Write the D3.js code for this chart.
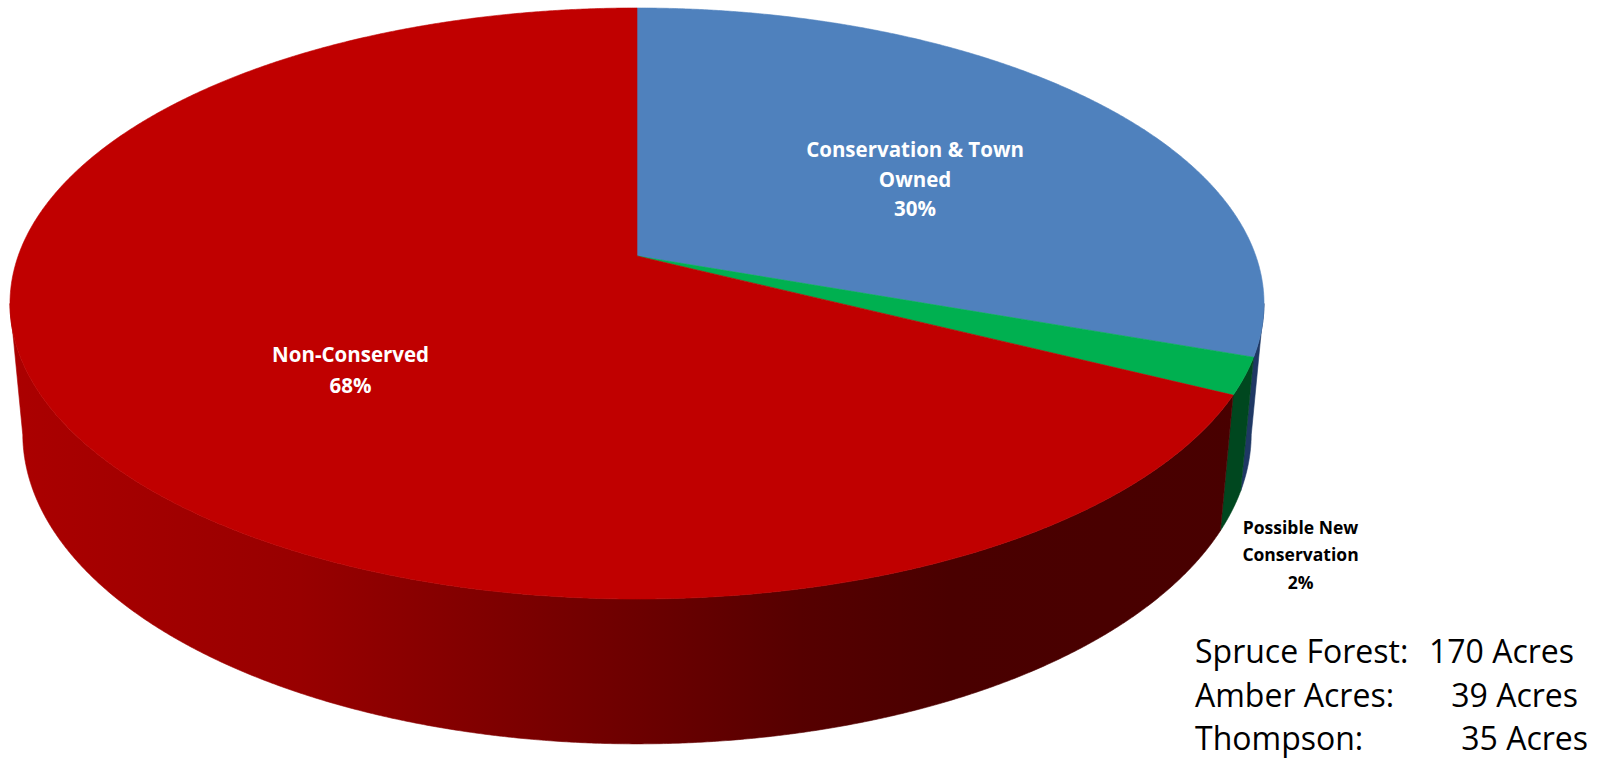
<!DOCTYPE html>
<html>
<head>
<meta charset="utf-8">
<script src="https://cdn.jsdelivr.net/npm/d3@7"></script>
<style>
  body { margin: 0; background: #fff; }
  svg { display: block; }
</style>
</head>
<body>
<div id="main"></div>
<script>
const categories = ['Conservation & Town Owned', 'Possible New Conservation', 'Non-Conserved'];
const labelLines = [['Conservation & Town', 'Owned'], ['Possible New', 'Conservation'], ['Non-Conserved']];
const shares = [30.4, 2.0, 67.6];
const topColors = ['#4f81bd', '#00b050', '#c00000'];
const sideColors = ['#1f3864', '#00471f', 'url(#redSide)'];

const parcels = ['Spruce Forest:', 'Amber Acres:', 'Thompson:'];
const parcelAcres = [170, 39, 35];

const
  width = 1605,
  height = 758;

// perspective camera for the tilted disc
const cx = 637, cy = 256;
const D = 5.507, f = 3408, sinT = 0.4652, cosT = Math.sqrt(1 - sinT * sinT);
const thick = 0.24;

// phi: clockwise from the far side, r: radius fraction, h: depth below the top face
function proj(phi, r = 1, h = 0) {
  const X = r * Math.sin(phi), Z = -r * Math.cos(phi);
  const up = -Z * sinT - h * cosT;
  const dep = D - Z * cosT + h * sinT;
  return [cx + f * X / dep, cy - f * up / dep];
}

// visible part of the rim (tangent points of the silhouette)
const k = cosT / D;
const visA = Math.acos(-k), visB = 2 * Math.PI - visA;

const pie = d3.pie().sort(null).value(d => d);
const arcs = pie(shares);

const step = Math.PI / 720;
const arcPts = (a0, a1, h) => d3.range(a0, a1, step).concat([a1]).map(a => proj(a, 1, h));

const line = d3.line().curve(d3.curveLinearClosed);

let svg = d3.select('div#main').append('svg').attr('width', width).attr('height', height);

// side shading: lighter on the left, darkest towards the right
const shade = d3.scaleLinear()
  .domain([10, 300, 640, 800, 950, 1270])
  .range(['#ab0000', '#980000', '#6c0000', '#560000', '#4a0000', '#480000']);
const grad = svg.append('defs').append('linearGradient')
  .attr('id', 'redSide').attr('gradientUnits', 'userSpaceOnUse')
  .attr('x1', 0).attr('x2', width).attr('y1', 0).attr('y2', 0);
grad.selectAll('stop').data(shade.domain()).join('stop')
  .attr('offset', d => d / width)
  .attr('stop-color', d => shade(d));

// side walls
arcs.forEach((d, i) => {
  const s = Math.max(d.startAngle, visA), e = Math.min(d.endAngle, visB);
  if (s >= e) return;
  const pts = arcPts(s, e, 0).concat(arcPts(s, e, thick).reverse());
  svg.append('path').attr('d', line(pts))
    .attr('fill', sideColors[i])
    .attr('stroke', sideColors[i]).attr('stroke-width', 0.6);
});

// top faces
arcs.forEach((d, i) => {
  const pts = [proj(0, 0)].concat(arcPts(d.startAngle, d.endAngle, 0));
  svg.append('path').attr('d', line(pts))
    .attr('fill', topColors[i])
    .attr('stroke', topColors[i]).attr('stroke-width', 0.6);
});

// data labels
const pct = d3.format('.0%');
const labelSpec = [
  { r: 0.58, h: 0, dx: 0, dy: 15, size: 20.5, lh: 29.5, fill: '#fff' },
  { r: 1.12, h: thick, dx: -8, dy: 28, size: 17.5, lh: 27.5, fill: '#000' },
  { r: 0.52, h: 0, dx: 0, dy: 32, size: 20.5, lh: 31, fill: '#fff' }
];
arcs.forEach((d, i) => {
  const sp = labelSpec[i];
  const mid = (d.startAngle + d.endAngle) / 2;
  const [px, py] = proj(mid, sp.r, sp.h);
  const lx = px + sp.dx, ly = py + sp.dy;
  const lines = labelLines[i].concat([pct(Math.round(shares[i]) / 100)]);
  const t = svg.append('text')
    .attr('x', lx).attr('y', ly)
    .attr('text-anchor', 'middle')
    .attr('font-family', '"Open Sans", sans-serif')
    .attr('font-weight', 'bold')
    .attr('font-size', sp.size)
    .attr('fill', sp.fill);
  t.selectAll('tspan').data(lines).join('tspan')
    .attr('x', lx)
    .attr('dy', (l, j) => j === 0 ? -(lines.length - 1) / 2 * sp.lh + sp.size * 0.35 : sp.lh)
    .text(l => l);
});

// acreage note
const note = svg.append('g')
  .attr('font-family', '"Open Sans", sans-serif')
  .attr('font-size', 32)
  .attr('fill', '#000');
const valueRight = [1574, 1578, 1588];
parcels.forEach((p, i) => {
  const y = 663 + i * 43.5;
  note.append('text').attr('x', 1195).attr('y', y).text(p);
  note.append('text').attr('x', valueRight[i]).attr('y', y)
    .attr('text-anchor', 'end').text(parcelAcres[i] + ' Acres');
});
</script>
</body>
</html>
